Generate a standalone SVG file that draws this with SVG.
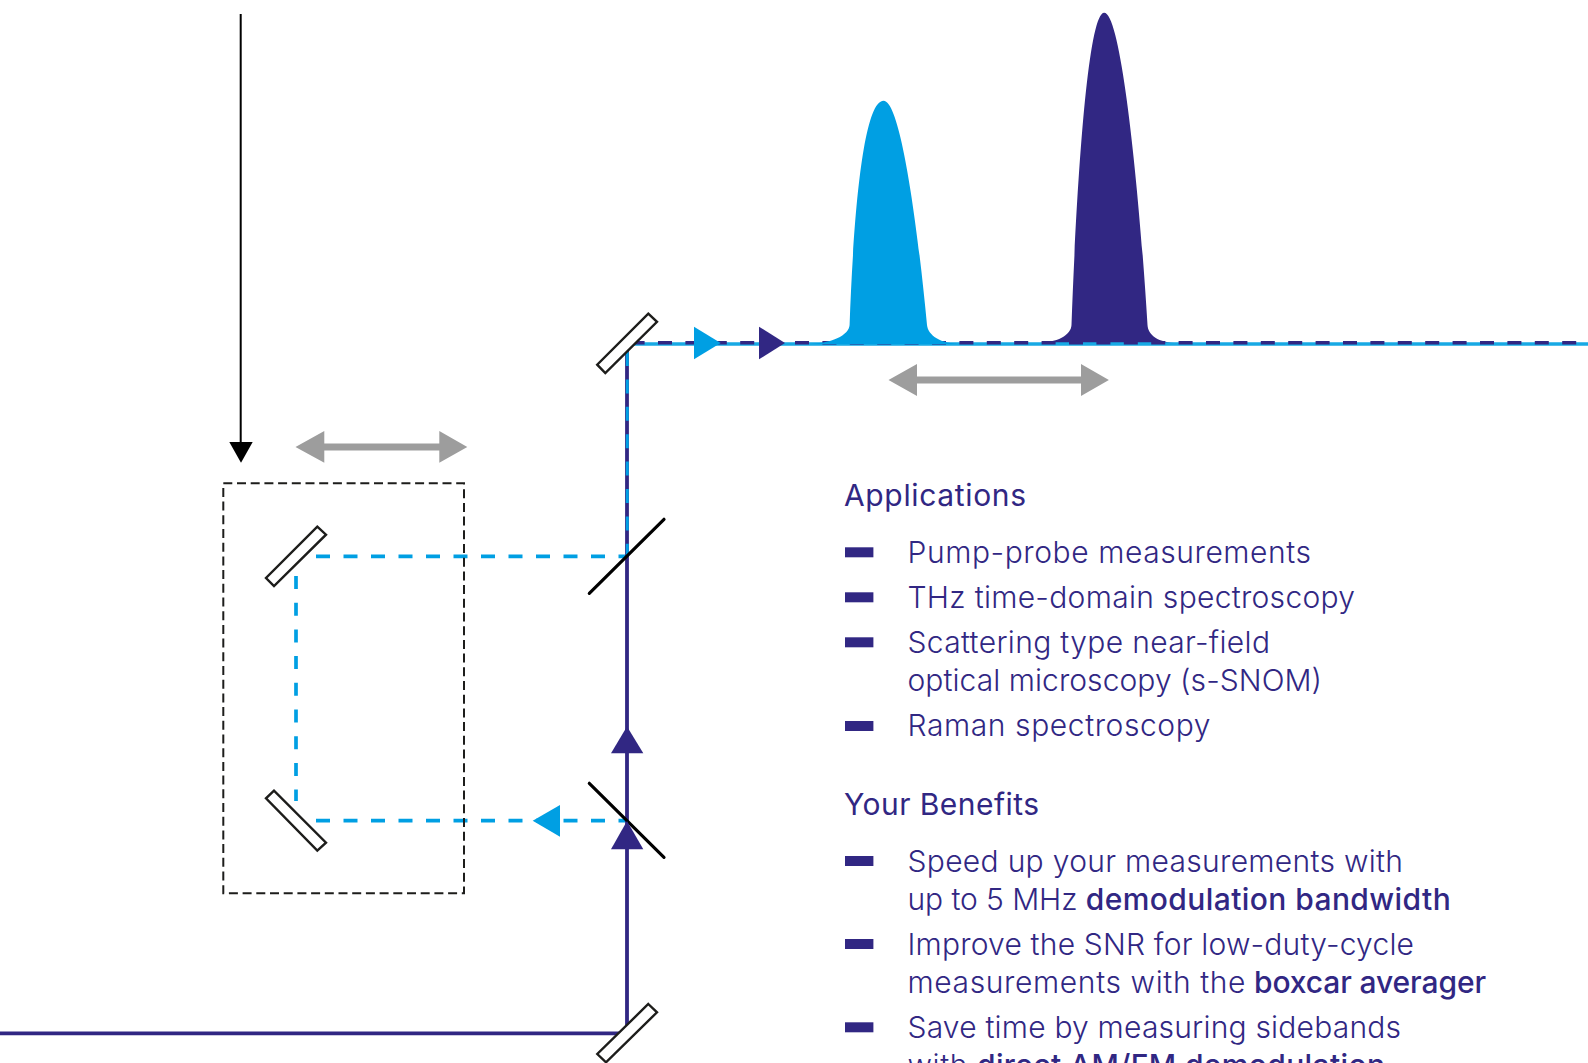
<svg xmlns="http://www.w3.org/2000/svg" width="1588" height="1063" viewBox="0 0 1588 1063">
<style>
.t{font-family:"Inter","Liberation Sans",sans-serif;font-size:30px;font-weight:300;fill:#312783}
.h{font-weight:400}
.b{font-weight:500}
.mirror{fill:#fff;stroke:#1d1d1b;stroke-width:2.4;stroke-linejoin:miter}
.split{stroke:#000;stroke-width:3.2;fill:none;stroke-linecap:round}
.pur{fill:#312783}
.lb{fill:#009fe3}
.gr{fill:#9d9d9d}
.bullet{fill:#312783}
.purline{stroke:#312783;stroke-width:3.8;fill:none}
.bdash{stroke:#009fe3;stroke-width:3.7;fill:none;stroke-dasharray:14 13.5}
</style>
<rect width="1588" height="1063" fill="#fff"/>
<g id="pulse-dark"><path class="pur" d="M1035 343C1058 343 1071 335 1071.5 325C1076 200 1087 12.7 1104.2 12.7C1122 12.7 1140 200 1147.5 325C1148 335 1158 343 1178 343Z"/></g>
<g id="connectors">
<path class="purline" d="M0 1033.3H620M627 1025V345"/>
<path d="M627.3 352V556" stroke="#009fe3" stroke-width="3" stroke-dasharray="14 13.4" fill="none"/>
<path d="M632 344H1588" stroke="#17a9e4" stroke-width="3.6" fill="none"/>
<path d="M630.6 342.8H1588" stroke="#312783" stroke-width="3.4" stroke-dasharray="14 13.4" fill="none"/>
<path class="bdash" d="M316 556.3H625"/>
<path class="bdash" d="M296 576V801" style="stroke-dasharray:13 13.7"/>
<path class="bdash" d="M316 820.7H625"/>
<path d="M240.7 14V445" stroke="#000" stroke-width="2" fill="none"/>
</g>
<g id="pulse-light"><path class="lb" d="M805 344C832 344 849 335 849.6 325C853 230 862 100.7 883.6 100.7C901 100.7 918 230 927 325C928 335 940 344 962 344Z"/></g>
<g id="delay-stage"><rect x="223.3" y="483.3" width="240.7" height="410" fill="none" stroke="#1d1d1b" stroke-width="2" stroke-dasharray="9 4.7"/></g>
<g id="mirror-stage-top"><path class="mirror" d="M317.3 526.7L326 534.7L274 586L266 578Z"/></g>
<g id="mirror-stage-bottom"><path class="mirror" d="M274 790.7L266 798.3L317.3 850.7L326 842.7Z"/></g>
<g id="mirror-top"><path class="mirror" d="M648.3 313.7L657 321.8L605.3 373L597.2 364.7Z"/></g>
<g id="mirror-bottom"><path class="mirror" d="M648.3 1004L657 1012.3L606 1062.3L597.3 1054Z"/></g>
<g id="splitter-top"><path class="split" d="M664 519.3L589.3 593.3"/></g>
<g id="splitter-bottom"><path class="split" d="M589.3 783.3L664 857.3"/></g>
<g id="arrowheads">
<path d="M229.3 442H252.7L241 462.7Z" fill="#000"/>
<path class="lb" d="M694 326.7L720.7 343L694 359.3Z"/>
<path class="pur" d="M759 326.7L785 343L759 359.3Z"/>
<path class="pur" d="M627 726.5L643.3 753.3H611Z"/>
<path class="pur" d="M627 821L643.3 849.3H611Z"/>
<path class="lb" d="M532.7 820.7L560 805V836.7Z"/>
</g>
<g id="shift-arrow-stage"><path class="gr" d="M295.5 447L324.3 431V443.5H439.3V431L467.3 447L439.3 462.7V450.5H324.3V462.7Z"/></g>
<g id="shift-arrow-pulse"><path class="gr" d="M888.5 380L917 364V376.5H1081V364L1108.9 380L1081 396V383.5H917V396Z"/></g>
<g id="applications">
<text class="t h" x="844" y="505.5" textLength="182">Applications</text>
<rect class="bullet" x="845" y="547.3" width="28.4" height="10"/>
<text class="t" x="907.5" y="562.8" textLength="403.5">Pump-probe measurements</text>
<rect class="bullet" x="845" y="592.3" width="28.4" height="10"/>
<text class="t" x="907.5" y="607.6" textLength="447.5">THz time-domain spectroscopy</text>
<rect class="bullet" x="845" y="637.3" width="28.4" height="10"/>
<text class="t" x="907.5" y="652.6" textLength="362.5">Scattering type near-field</text>
<text class="t" x="907.5" y="690.5" textLength="414.5">optical microscopy (s-SNOM)</text>
<rect class="bullet" x="845" y="721" width="28.4" height="10"/>
<text class="t" x="907.5" y="735.7" textLength="303">Raman spectroscopy</text>
</g>
<g id="benefits">
<text class="t h" x="844" y="814.8" textLength="195">Your Benefits</text>
<rect class="bullet" x="845" y="856" width="28.4" height="10"/>
<text class="t" x="907.5" y="871.6" textLength="495.5">Speed up your measurements with</text>
<text class="t" y="909.5"><tspan x="907.5" textLength="170">up to 5 MHz</tspan><tspan class="b" x="1085.7" textLength="365">demodulation bandwidth</tspan></text>
<rect class="bullet" x="845" y="939" width="28.4" height="10"/>
<text class="t" x="907.5" y="954.5" textLength="506.5">Improve the SNR for low-duty-cycle</text>
<text class="t" y="993"><tspan x="907.5" textLength="338">measurements with the</tspan><tspan class="b" x="1254" textLength="232">boxcar averager</tspan></text>
<rect class="bullet" x="845" y="1022.3" width="28.4" height="10"/>
<text class="t" x="907.5" y="1037.5" textLength="493.5">Save time by measuring sidebands</text>
<text class="t" y="1076"><tspan x="907.5" textLength="60">with</tspan><tspan class="b" x="977" textLength="408">direct AM/FM demodulation</tspan></text>
</g>
</svg>
